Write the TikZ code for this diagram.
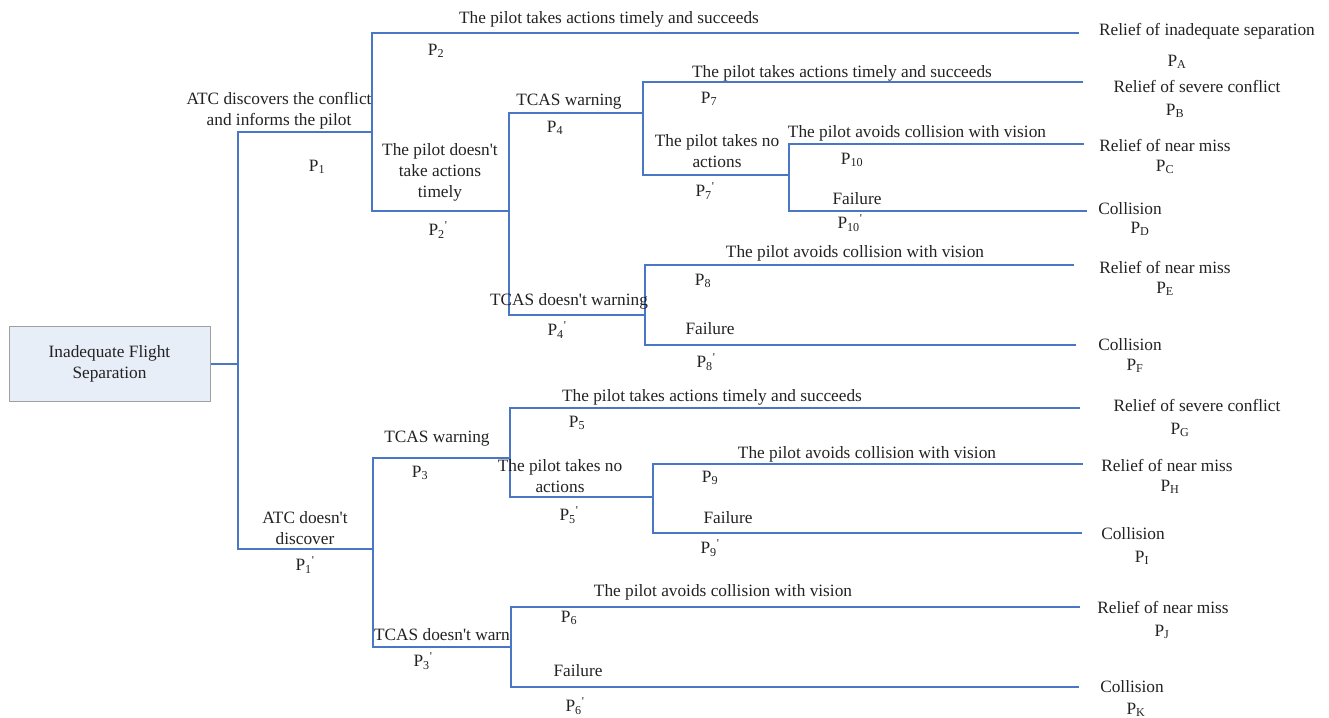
\documentclass[tikz,border=0pt]{standalone}
\usepackage{fontspec}
\setmainfont{Liberation Serif}
\newcommand\Pb[1]{P\textsubscript{#1}}
\newcommand\Pq[1]{P\textsubscript{#1}\textsuperscript{\textquotesingle}}
\newcommand\ap{\textquotesingle}
\definecolor{lineblue}{HTML}{4A76C6}
\definecolor{boxfill}{HTML}{E8EEF7}
\definecolor{boxdraw}{HTML}{A0A0A0}
\definecolor{txt}{HTML}{222222}
\begin{document}
\begin{tikzpicture}[x=1pt,y=-1pt,
  lbl/.style={inner sep=0pt,align=center,text=txt,font=\fontsize{17.3}{21}\selectfont},
  br/.style={draw=lineblue,line width=1.3pt,line cap=rect},
  rootbox/.style={draw=boxdraw,fill=boxfill,line width=1pt,minimum width=201pt,minimum height=75pt,inner sep=0pt,align=center,text=txt,font=\fontsize{17.3}{21}\selectfont}]
\useasboundingbox (0,0) rectangle (1329,717);
% root
\node[rootbox] (root) at (109.5,364) {Inadequate Flight\\Separation};
% junction coordinates
\coordinate (A) at (238,364);
\coordinate (A1) at (238,132); \coordinate (A2) at (238,549);
\coordinate (B) at (372,132); \coordinate (B1) at (372,33); \coordinate (B2) at (372,211);
\coordinate (endA) at (1078,33);
\coordinate (C) at (509,211); \coordinate (C1) at (509,113); \coordinate (C2) at (509,315);
\coordinate (D) at (643,113); \coordinate (D1) at (643,82); \coordinate (D2) at (643,175);
\coordinate (endB) at (1082,82);
\coordinate (E) at (789,175); \coordinate (E1) at (789,144); \coordinate (E2) at (789,211);
\coordinate (endC) at (1083,144); \coordinate (endD) at (1086,211);
\coordinate (F) at (645,315); \coordinate (F1) at (645,265); \coordinate (F2) at (645,345);
\coordinate (endE) at (1073,265); \coordinate (endF) at (1075,345);
\coordinate (G) at (373,549); \coordinate (G1) at (373,458); \coordinate (G2) at (373,647);
\coordinate (H) at (510,458); \coordinate (H1) at (510,408); \coordinate (H2) at (510,497);
\coordinate (endG) at (1079,408);
\coordinate (I) at (653,497); \coordinate (I1) at (653,464); \coordinate (I2) at (653,533);
\coordinate (endH) at (1082,464); \coordinate (endI) at (1081,533);
\coordinate (J) at (511,647); \coordinate (J1) at (511,607); \coordinate (J2) at (511,687);
\coordinate (endJ) at (1079,607); \coordinate (endK) at (1078,687);
% connectors
\draw[br,line cap=butt] (root.east) -- (A);
\draw[br] (B) -- (A1) -- (A2) -- (G);
\draw[br] (endA) -- (B1) -- (B2) -- (C);
\draw[br] (D) -- (C1) -- (C2) -- (F);
\draw[br] (endB) -- (D1) -- (D2) -- (E);
\draw[br] (endC) -- (E1) -- (E2) -- (endD);
\draw[br] (endE) -- (F1) -- (F2) -- (endF);
\draw[br] (H) -- (G1) -- (G2) -- (J);
\draw[br] (endG) -- (H1) -- (H2) -- (I);
\draw[br] (endH) -- (I1) -- (I2) -- (endI);
\draw[br] (endJ) -- (J1) -- (J2) -- (endK);
% upper labels
\node[lbl] (t1) at (609,19) {The pilot takes actions timely and succeeds};
\node[lbl] (oA) at (1207,31) {Relief of inadequate separation};
\node[lbl] (pA) at (1177,62) {\Pb{A}};
\node[lbl] (t2) at (279,110.5) {ATC discovers the conflict\\and informs the pilot};
\node[lbl] (p1) at (317,167) {\Pb{1}};
\node[lbl] (p2) at (436,51) {\Pb{2}};
\node[lbl] (t3) at (440,172) {The pilot doesn\ap t\\take actions\\timely};
\node[lbl] (p2q) at (438,230) {\Pq{2}};
\node[lbl] (t4) at (569,102) {TCAS warning};
\node[lbl] (p4) at (555,128) {\Pb{4}};
\node[lbl] (t5) at (842,73) {The pilot takes actions timely and succeeds};
\node[lbl] (p7) at (709,99) {\Pb{7}};
\node[lbl] (oB) at (1197,86) {Relief of severe conflict};
\node[lbl] (pB) at (1175,111) {\Pb{B}};
\node[lbl] (t6) at (717,151.5) {The pilot takes no\\actions};
\node[lbl] (p7q) at (705,191) {\Pq{7}};
\node[lbl] (t7) at (917,133) {The pilot avoids collision with vision};
\node[lbl] (p10) at (852,160) {\Pb{10}};
\node[lbl] (oC) at (1165,145) {Relief of near miss};
\node[lbl] (pC) at (1165,167) {\Pb{C}};
\node[lbl] (t8) at (857,199) {Failure};
\node[lbl] (p10q) at (850,223) {\Pq{10}};
\node[lbl] (oD) at (1130,209) {Collision};
\node[lbl] (pD) at (1140,229) {\Pb{D}};
\node[lbl] (t9) at (569,301) {TCAS doesn\ap t warning};
\node[lbl] (p4q) at (557,330) {\Pq{4}};
\node[lbl] (t10) at (855,253) {The pilot avoids collision with vision};
\node[lbl] (p8) at (703,281) {\Pb{8}};
\node[lbl] (oE) at (1165,267) {Relief of near miss};
\node[lbl] (pE) at (1165,289) {\Pb{E}};
\node[lbl] (t11) at (710,329) {Failure};
\node[lbl] (p8q) at (706,362) {\Pq{8}};
\node[lbl] (oF) at (1130,345) {Collision};
\node[lbl] (pF) at (1135,366) {\Pb{F}};
% lower labels
\node[lbl] (t12) at (305,528.5) {ATC doesn\ap t\\discover};
\node[lbl] (p1q) at (305,565) {\Pq{1}};
\node[lbl] (t13) at (437,439) {TCAS warning};
\node[lbl] (p3) at (420,473) {\Pb{3}};
\node[lbl] (t14) at (712,397) {The pilot takes actions timely and succeeds};
\node[lbl] (p5) at (577,423) {\Pb{5}};
\node[lbl] (oG) at (1197,405) {Relief of severe conflict};
\node[lbl] (pG) at (1180,430) {\Pb{G}};
\node[lbl] (t15) at (560,476) {The pilot takes no\\actions};
\node[lbl] (p5q) at (569,515) {\Pq{5}};
\node[lbl] (t16) at (867,454) {The pilot avoids collision with vision};
\node[lbl] (p9) at (710,478) {\Pb{9}};
\node[lbl] (oH) at (1167,465) {Relief of near miss};
\node[lbl] (pH) at (1170,487) {\Pb{H}};
\node[lbl] (t17) at (728,518) {Failure};
\node[lbl] (p9q) at (710,548) {\Pq{9}};
\node[lbl] (oI) at (1133,534) {Collision};
\node[lbl] (pI) at (1142,558) {\Pb{I}};
\node[lbl] (t18) at (442,635) {TCAS doesn\ap t warn};
\node[lbl] (p3q) at (423,661) {\Pq{3}};
\node[lbl] (t19) at (723,592) {The pilot avoids collision with vision};
\node[lbl] (p6) at (569,618) {\Pb{6}};
\node[lbl] (oJ) at (1163,607) {Relief of near miss};
\node[lbl] (pJ) at (1162,632) {\Pb{J}};
\node[lbl] (t20) at (578,671) {Failure};
\node[lbl] (p6q) at (575,706) {\Pq{6}};
\node[lbl] (oK) at (1132,687) {Collision};
\node[lbl] (pK) at (1136,710) {\Pb{K}};
\end{tikzpicture}
\end{document}
